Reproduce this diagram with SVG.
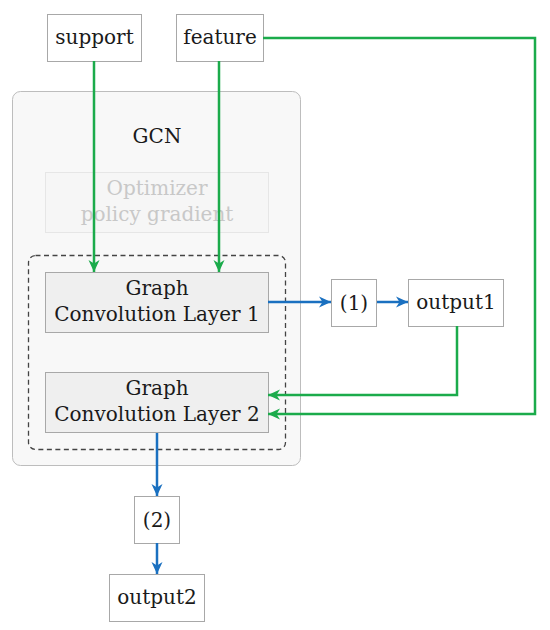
<svg xmlns="http://www.w3.org/2000/svg" width="550" height="630" viewBox="0 0 550 630">
<style>
text{font-family:"DejaVu Serif","Liberation Serif",serif;font-size:20px;fill:#1a1a1a;text-anchor:middle}
.box{fill:#ffffff;stroke:#a8a8a8;stroke-width:1}
.layer{fill:#efefef;stroke:#a8a8a8;stroke-width:1}
.g{fill:none;stroke:#1bab4b;stroke-width:2.5;marker-end:url(#ag)}
.b{fill:none;stroke:#1a70c0;stroke-width:2.5;marker-end:url(#ab)}
</style>
<defs>
<marker id="ag" markerUnits="userSpaceOnUse" markerWidth="14" markerHeight="14" refX="12" refY="7" orient="auto"><path d="M0,1.5 L12,7 L0,12.5 L3.5,7 z" fill="#1bab4b"/></marker>
<marker id="ab" markerUnits="userSpaceOnUse" markerWidth="14" markerHeight="14" refX="12" refY="7" orient="auto"><path d="M0,1.5 L12,7 L0,12.5 L3.5,7 z" fill="#1a70c0"/></marker>
</defs>
<rect width="550" height="630" fill="#ffffff"/>
<g id="gcn">
<rect x="12.5" y="91.5" width="288" height="374" rx="8" fill="#f8f8f8" stroke="#bdbdbd" stroke-width="1"/>
<text x="157" y="143">GCN</text>
</g>
<g id="optimizer">
<rect x="45.5" y="172.5" width="223" height="60" fill="#f6f6f6" stroke="#e6e6e6" stroke-width="1"/>
<text x="157" y="195" style="fill:#c8c8c8">Optimizer</text>
<text x="157" y="221" style="fill:#c8c8c8">policy gradient</text>
</g>
<g id="layers">
<rect x="28.5" y="255.5" width="257" height="194" rx="7" fill="none" stroke="#444" stroke-width="1.3" stroke-dasharray="5,3.5"/>
</g>
<g id="gcl1">
<rect class="layer" x="45.5" y="272.5" width="223" height="60"/>
<text x="157" y="295">Graph</text>
<text x="157" y="321">Convolution Layer 1</text>
</g>
<g id="gcl2">
<rect class="layer" x="45.5" y="372.5" width="223" height="60"/>
<text x="157" y="395">Graph</text>
<text x="157" y="421">Convolution Layer 2</text>
</g>
<g id="support">
<rect class="box" x="47.5" y="14.5" width="94" height="47"/>
<text x="94.5" y="44">support</text>
</g>
<g id="feature">
<rect class="box" x="176.5" y="14.5" width="87" height="47"/>
<text x="220" y="44">feature</text>
</g>
<g id="n1">
<rect class="box" x="331.5" y="279.5" width="45" height="47"/>
<text x="354" y="310">(1)</text>
</g>
<g id="output1">
<rect class="box" x="408.5" y="279.5" width="95" height="47"/>
<text x="456" y="309">output1</text>
</g>
<g id="n2">
<rect class="box" x="134.5" y="496.5" width="45" height="47"/>
<text x="157" y="527">(2)</text>
</g>
<g id="output2">
<rect class="box" x="109.5" y="574.5" width="95" height="47"/>
<text x="157" y="604">output2</text>
</g>
<g id="connectors">
<path class="g" d="M94,61 V272"/>
<path class="g" d="M219,61 V272"/>
<path class="g" d="M263,38 H535 V414 H268"/>
<path class="g" d="M457,326 V395 H268"/>
<path class="b" d="M268,302 H331"/>
<path class="b" d="M377,302 H408"/>
<path class="b" d="M157,433 V496"/>
<path class="b" d="M157,543 V574"/>
</g>
</svg>
